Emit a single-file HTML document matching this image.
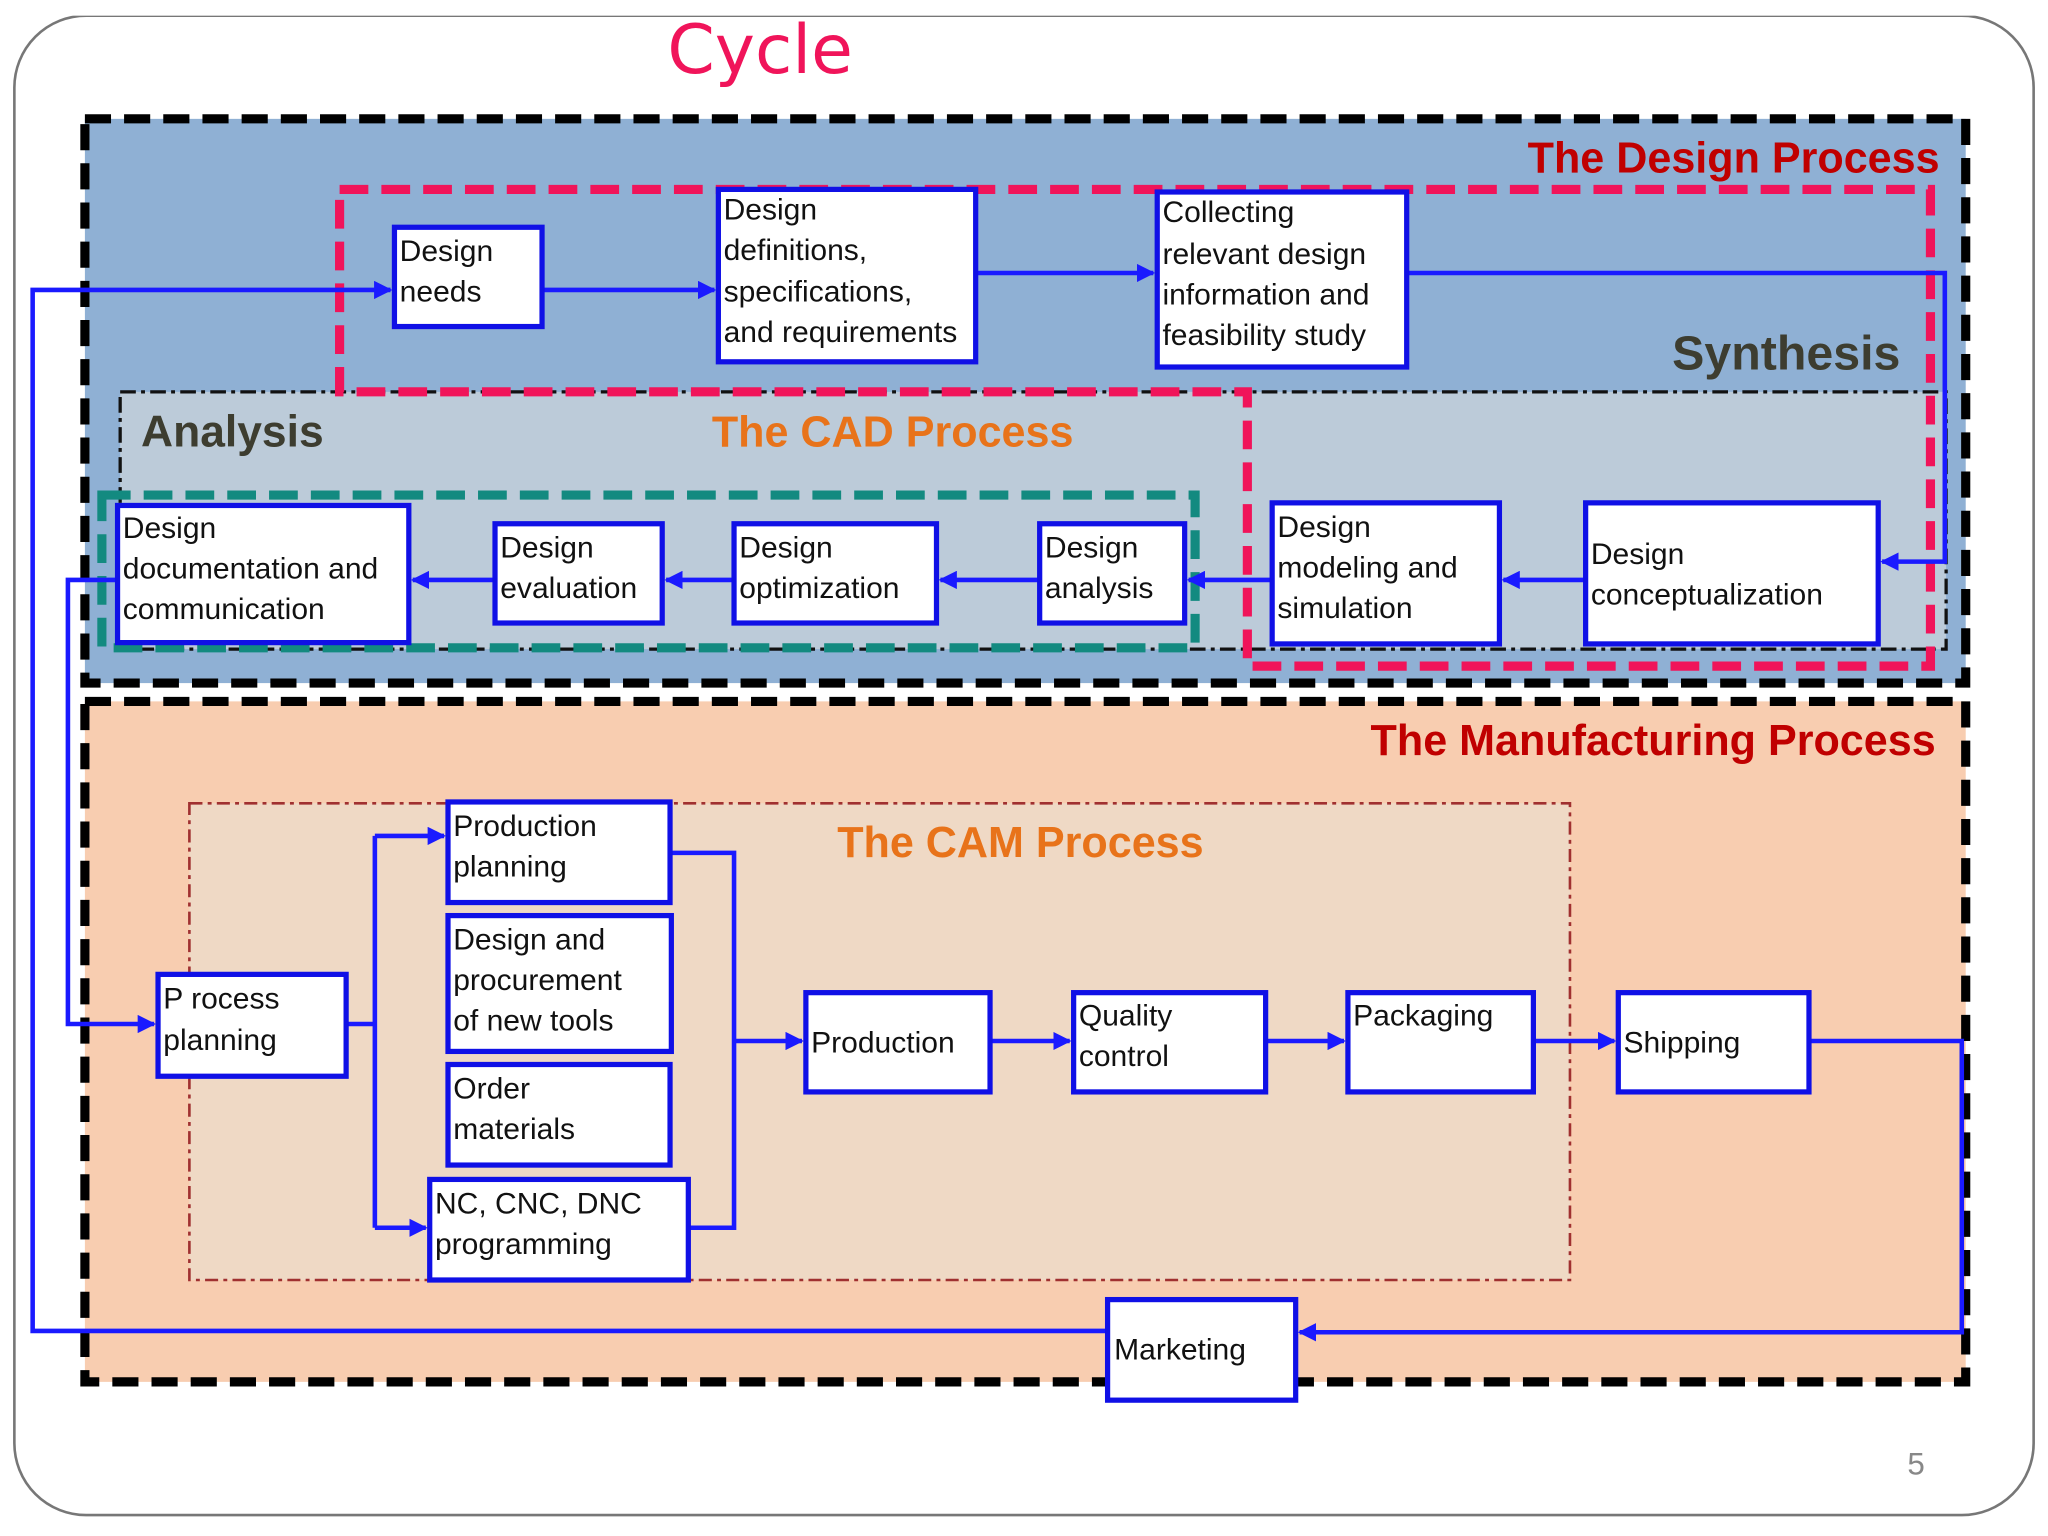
<!DOCTYPE html>
<html><head><meta charset="utf-8"><style>
html,body{margin:0;padding:0;background:#fff;}
svg{display:block;}
text{font-family:"Liberation Sans","DejaVu Sans",sans-serif;}
.bx{fill:#fff;stroke:#1010e6;stroke-width:4;}
.t{font-size:23px;fill:#111;}
.c{fill:none;stroke:#1a1aff;stroke-width:3.5;}
.h{font-weight:bold;font-size:33px;}
</style></head><body>
<svg width="2048" height="1536" viewBox="0 0 1568 1176" xmlns="http://www.w3.org/2000/svg">
<defs>
<marker id="a" viewBox="0 0 10 10" refX="9" refY="5" markerWidth="4" markerHeight="4" orient="auto"><path d="M0,0 L10,5 L0,10 z" fill="#1a1aff"/></marker>
</defs>
<rect x="0" y="0" width="1568" height="1176" fill="#fff"/>
<rect x="11" y="12" width="1546" height="1148" rx="55" fill="#fff" stroke="#777" stroke-width="2"/>
<text x="582" y="-2" text-anchor="middle" font-size="52" fill="#f0145a" font-family="DejaVu Sans">Typical Product</text>
<rect x="0" y="0" width="1568" height="12" fill="#fff"/>
<text x="582" y="56" text-anchor="middle" font-size="52" fill="#f0145a" style="font-family:'DejaVu Sans',sans-serif">Cycle</text>

<!-- design region -->
<rect x="65" y="91" width="1440" height="432" fill="#8fb0d4" stroke="#000" stroke-width="7" stroke-dasharray="20 10"/>
<rect x="92" y="300" width="1398" height="197" fill="#bccbd9" stroke="#111" stroke-width="2.5" stroke-dasharray="12 4 3 4"/>
<path d="M260,145 L1478,145 L1478,510 L955,510 L955,300 L260,300 Z" fill="none" stroke="#f0145a" stroke-width="7" stroke-dasharray="22 10"/>
<rect x="78" y="379" width="837" height="117" fill="none" stroke="#138a80" stroke-width="7" stroke-dasharray="22 10"/>

<!-- manufacturing region -->
<rect x="65" y="537" width="1440" height="521" fill="#f8cdb0" stroke="#000" stroke-width="7" stroke-dasharray="20 10"/>
<rect x="145" y="615" width="1057" height="365" fill="#efd9c5" stroke="#a03030" stroke-width="2" stroke-dasharray="10 4 3 4"/>

<text x="1485" y="132" text-anchor="end" class="h" fill="#c00000">The Design Process</text>
<text x="1455" y="283" text-anchor="end" class="h" font-size="37" fill="#3d3d30" style="font-size:37px">Synthesis</text>
<text x="108" y="342" class="h" fill="#3d3d30" style="font-size:34px">Analysis</text>
<text x="545" y="342" class="h" fill="#e8731a">The CAD Process</text>
<text x="1482" y="578" text-anchor="end" class="h" fill="#c00000">The Manufacturing Process</text>
<text x="641" y="656" class="h" fill="#e8731a">The CAM Process</text>

<!-- connectors -->
<path class="c" d="M848,1019 L25,1019 L25,222 L299,222" marker-end="url(#a)"/>
<path class="c" d="M415,222 L547,222" marker-end="url(#a)"/>
<path class="c" d="M747,209 L883,209" marker-end="url(#a)"/>
<path class="c" d="M1077,209 L1489,209 L1489,430 L1441,430" marker-end="url(#a)"/>
<path class="c" d="M1214,444 L1151,444" marker-end="url(#a)"/>
<path class="c" d="M974,444 L910,444" marker-end="url(#a)"/>
<path class="c" d="M796,444 L720,444" marker-end="url(#a)"/>
<path class="c" d="M562,444 L510,444" marker-end="url(#a)"/>
<path class="c" d="M379,444 L316,444" marker-end="url(#a)"/>
<path class="c" d="M90,444 L52,444 L52,784 L118,784"  marker-end="url(#a)"/>
<path class="c" d="M265,784 L287,784"/>
<path class="c" d="M287,640 L287,940"/>
<path class="c" d="M287,640 L340,640" marker-end="url(#a)"/>
<path class="c" d="M287,940 L326,940" marker-end="url(#a)"/>
<path class="c" d="M513,653 L562,653 L562,940 L527,940"/>
<path class="c" d="M562,797 L614,797" marker-end="url(#a)"/>
<path class="c" d="M758,797 L819,797" marker-end="url(#a)"/>
<path class="c" d="M969,797 L1029,797" marker-end="url(#a)"/>
<path class="c" d="M1174,797 L1236,797" marker-end="url(#a)"/>
<path class="c" d="M1385,797 L1502,797 L1502,1020 L995,1020" marker-end="url(#a)"/>

<!-- boxes -->
<rect class="bx" x="302" y="174" width="113" height="76"/>
<text class="t" x="306" y="200">Design</text><text class="t" x="306" y="231">needs</text>
<rect class="bx" x="550" y="145" width="197" height="132"/>
<text class="t" x="554" y="168">Design</text><text class="t" x="554" y="199">definitions,</text><text class="t" x="554" y="231">specifications,</text><text class="t" x="554" y="262">and requirements</text>
<rect class="bx" x="886" y="147" width="191" height="134"/>
<text class="t" x="890" y="170">Collecting</text><text class="t" x="890" y="202">relevant design</text><text class="t" x="890" y="233">information and</text><text class="t" x="890" y="264">feasibility study</text>
<rect class="bx" x="90" y="387" width="223" height="105"/>
<text class="t" x="94" y="412">Design</text><text class="t" x="94" y="443">documentation and</text><text class="t" x="94" y="474">communication</text>
<rect class="bx" x="379" y="401" width="128" height="76"/>
<text class="t" x="383" y="427">Design</text><text class="t" x="383" y="458">evaluation</text>
<rect class="bx" x="562" y="401" width="155" height="76"/>
<text class="t" x="566" y="427">Design</text><text class="t" x="566" y="458">optimization</text>
<rect class="bx" x="796" y="401" width="111" height="76"/>
<text class="t" x="800" y="427">Design</text><text class="t" x="800" y="458">analysis</text>
<rect class="bx" x="974" y="385" width="174" height="108"/>
<text class="t" x="978" y="411">Design</text><text class="t" x="978" y="442">modeling and</text><text class="t" x="978" y="473">simulation</text>
<rect class="bx" x="1214" y="385" width="224" height="108"/>
<text class="t" x="1218" y="432">Design</text><text class="t" x="1218" y="463">conceptualization</text>

<rect class="bx" x="121" y="746" width="144" height="78"/>
<text class="t" x="125" y="772">P rocess</text><text class="t" x="125" y="804">planning</text>
<rect class="bx" x="343" y="614" width="170" height="77"/>
<text class="t" x="347" y="640">Production</text><text class="t" x="347" y="671">planning</text>
<rect class="bx" x="343" y="701" width="171" height="104"/>
<text class="t" x="347" y="727">Design and</text><text class="t" x="347" y="758">procurement</text><text class="t" x="347" y="789">of new tools</text>
<rect class="bx" x="343" y="815" width="170" height="77"/>
<text class="t" x="347" y="841">Order</text><text class="t" x="347" y="872">materials</text>
<rect class="bx" x="329" y="903" width="198" height="77"/>
<text class="t" x="333" y="929">NC, CNC, DNC</text><text class="t" x="333" y="960">programming</text>
<rect class="bx" x="617" y="760" width="141" height="76"/>
<text class="t" x="621" y="806">Production</text>
<rect class="bx" x="822" y="760" width="147" height="76"/>
<text class="t" x="826" y="785">Quality</text><text class="t" x="826" y="816">control</text>
<rect class="bx" x="1032" y="760" width="142" height="76"/>
<text class="t" x="1036" y="785">Packaging</text>
<rect class="bx" x="1239" y="760" width="146" height="76"/>
<text class="t" x="1243" y="806">Shipping</text>
<rect class="bx" x="848" y="995" width="144" height="77"/>
<text class="t" x="853" y="1041">Marketing</text>

<text x="1467" y="1129" font-size="24" fill="#888" text-anchor="middle">5</text>
</svg>
</body></html>
